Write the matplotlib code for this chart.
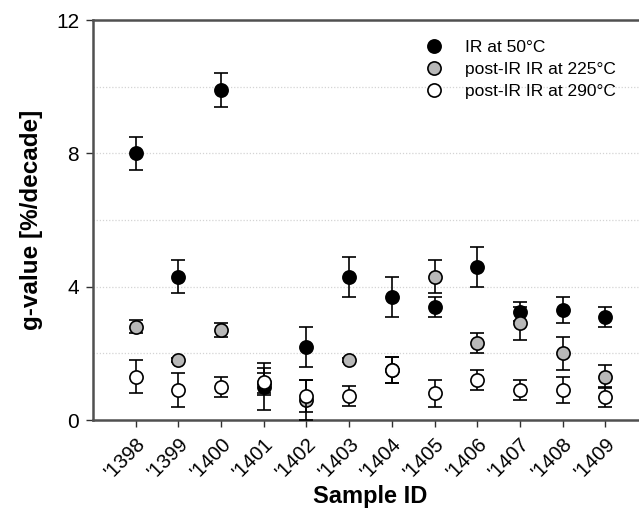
import matplotlib
matplotlib.use("Agg")
import matplotlib.pyplot as plt
import numpy as np

plt.rcParams['font.family'] = ['Liberation Sans', 'DejaVu Sans']

samples = ["'1398", "'1399", "'1400", "'1401", "'1402", "'1403",
           "'1404", "'1405", "'1406", "'1407", "'1408", "'1409"]

ir50 = [8.0, 4.3, 9.9, 1.0, 2.2, 4.3, 3.7, 3.4, 4.6, 3.25, 3.3, 3.1]
ir50_err = [0.5, 0.5, 0.5, 0.7, 0.6, 0.6, 0.6, 0.3, 0.6, 0.28, 0.4, 0.3]

pir225 = [2.8, 1.8, 2.7, 1.1, 0.6, 1.8, 1.5, 4.3, 2.3, 2.9, 2.0, 1.3]
pir225_err = [0.2, 0.05, 0.2, 0.3, 0.6, 0.05, 0.4, 0.5, 0.3, 0.5, 0.5, 0.35]

pir290 = [1.3, 0.9, 1.0, 1.15, 0.72, 0.72, 1.5, 0.8, 1.2, 0.9, 0.9, 0.7]
pir290_err = [0.5, 0.5, 0.3, 0.4, 0.48, 0.3, 0.4, 0.4, 0.3, 0.3, 0.4, 0.3]

fig = plt.figure(figsize=(6.39, 5.09), dpi=100)
ax = fig.add_axes([93 / 639, 89 / 509, 555 / 639, 400 / 509])

x = np.arange(len(samples))
spine_col = '#505050'

for y in [2, 4, 6, 8, 10]:
    ax.axhline(y, color='#d4d4d4', lw=0.9, ls=(0, (1, 1.5)), zorder=0)

series = [
    (ir50, ir50_err, 'black', 'IR at 50°C'),
    (pir225, pir225_err, '#b8b8b8', 'post-IR IR at 225°C'),
    (pir290, pir290_err, 'white', 'post-IR IR at 290°C'),
]
for i, (vals, errs, fc, lab) in enumerate(series):
    ax.errorbar(x, vals, yerr=errs, fmt='o', ms=9.5, mfc=fc, mec='black',
                mew=1.2, ecolor='black', elinewidth=1.2, capsize=5,
                capthick=1.2, label=lab, zorder=3 + i)

ax.set_xlim(-1, 12)
ax.set_ylim(0, 12)
ax.set_yticks([0, 4, 8, 12])
ax.set_xticks(x)
ax.set_xticklabels(samples, rotation=45, ha='right', rotation_mode='anchor',
                   fontsize=14.5)
ax.tick_params(axis='y', labelsize=15, direction='out', length=5,
               width=1.0, color='#303030', pad=5)
ax.tick_params(axis='x', direction='out', length=5, width=1.0,
               color='#303030', pad=5)

for side in ['left', 'bottom', 'top']:
    ax.spines[side].set_color(spine_col)
    ax.spines[side].set_linewidth(1.8)
ax.spines['right'].set_visible(False)

ax.set_xlabel('Sample ID', fontsize=17, fontweight='bold', labelpad=2)
ax.set_ylabel('g-value [%/decade]', fontsize=17.5, fontweight='bold', labelpad=9)

leg_handles = [
    plt.Line2D([], [], ls='none', marker='o', ms=9.5, mfc=fc, mec='black',
               mew=1.2) for _, _, fc, _ in series
]
ax.legend(leg_handles, [s[3] for s in series], loc='upper left',
          bbox_to_anchor=(0.57, 0.99), frameon=False, fontsize=12.5,
          handletextpad=1.3, labelspacing=0.4, handlelength=1.0)

fig.savefig('out.png', dpi=100)
